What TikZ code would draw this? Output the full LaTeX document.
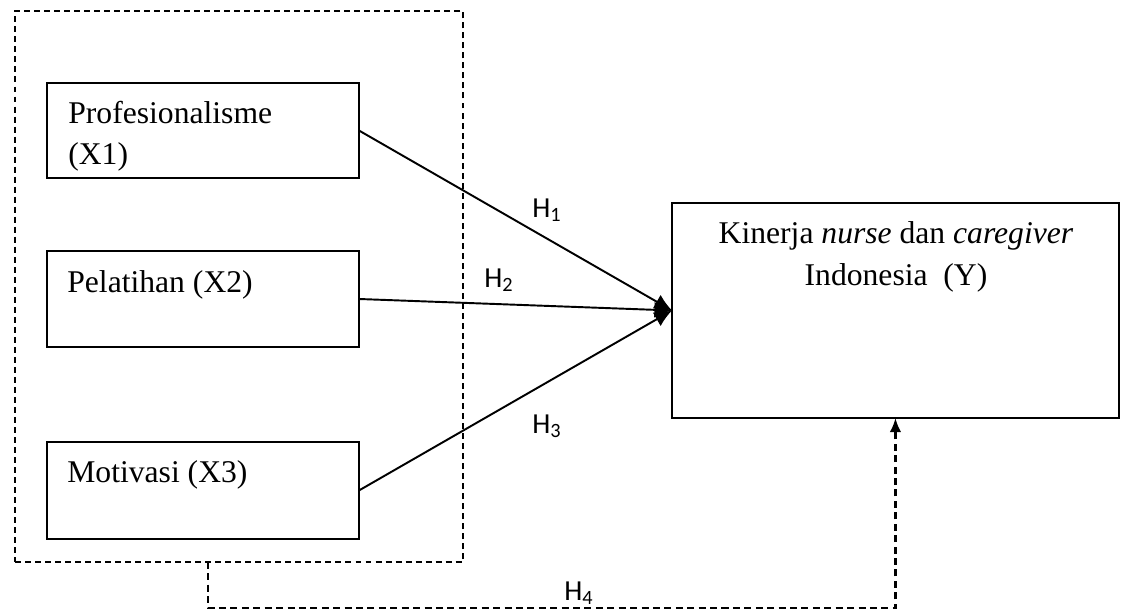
\documentclass[tikz,border=0pt]{standalone}
\usepackage{fontspec}
\setmainfont{Liberation Serif}
\newfontfamily\hfont{Carlito}
\usetikzlibrary{arrows.meta}

\tikzset{
  varbox/.style={draw, line width=0.9pt, minimum width=6.24cm, anchor=north west, inner sep=0pt, outer sep=0pt},
  grpbox/.style={draw, line width=0.85pt, dash pattern=on 3.4pt off 2.3pt, anchor=north west, inner sep=0pt, outer sep=0pt},
  vartext/.style={font=\fontsize{18}{23.8}\selectfont, inner sep=0pt},
  hlabel/.style={font=\hfont\fontsize{16.5}{20}\selectfont, anchor=base west, inner sep=0pt},
  hyparrow/.style={line width=1.1pt, -{Latex[length=10pt,width=9pt]}},
  hypdash/.style={line width=1.3pt, dash pattern=on 4pt off 2.5pt, -{Latex[length=8pt,width=6.5pt]}}
}

\begin{document}
\begin{tikzpicture}[x=0.02cm, y=-0.02cm]
  \useasboundingbox (0,0) rectangle (1125,611);

  % group of independent variables
  \node[grpbox, minimum width=8.96cm, minimum height=11.02cm] (grp) at (15,11) {};

  % variable boxes
  \node[varbox, minimum height=1.9cm] (x1) at (47,83) {};
  \node[varbox, minimum height=1.92cm] (x2) at (47,251) {};
  \node[varbox, minimum height=1.94cm] (x3) at (47,442) {};
  \node[draw, line width=0.9pt, anchor=north west, inner sep=0pt, outer sep=0pt,
        minimum width=8.94cm, minimum height=4.3cm] (y) at (672,203) {};

  % box texts (base = last line)
  \node[vartext, anchor=base west, align=left] (t1) at (68,165) {Profesionalisme\\(X1)};
  \node[vartext, anchor=base west] (t2) at (67,292) {Pelatihan (X2)};
  \node[vartext, anchor=base west] (t3) at (67,482) {Motivasi (X3)};
  \node[vartext, anchor=base, align=center] (ty) at (896,285)
       {Kinerja \textit{nurse} dan \textit{caregiver}\\Indonesia\ \ (Y)};

  % hypotheses
  \draw[hyparrow] (x1.east) -- (y.west);
  \draw[hyparrow] (x2.east) -- (y.west);
  \draw[hyparrow] (x3.east) -- (y.west);
  \coordinate (bend) at (208,608);
  \draw[hypdash] (grp.south -| bend) -- (bend) -- (bend -| y.south) -- (y.south);

  \node[hlabel] (h1) at (532,217) {H\textsubscript{1}};
  \node[hlabel] (h2) at (484,287) {H\textsubscript{2}};
  \node[hlabel] (h3) at (532,433) {H\textsubscript{3}};
  \node[hlabel] (h4) at (564,600) {H\textsubscript{4}};
\end{tikzpicture}
\end{document}
